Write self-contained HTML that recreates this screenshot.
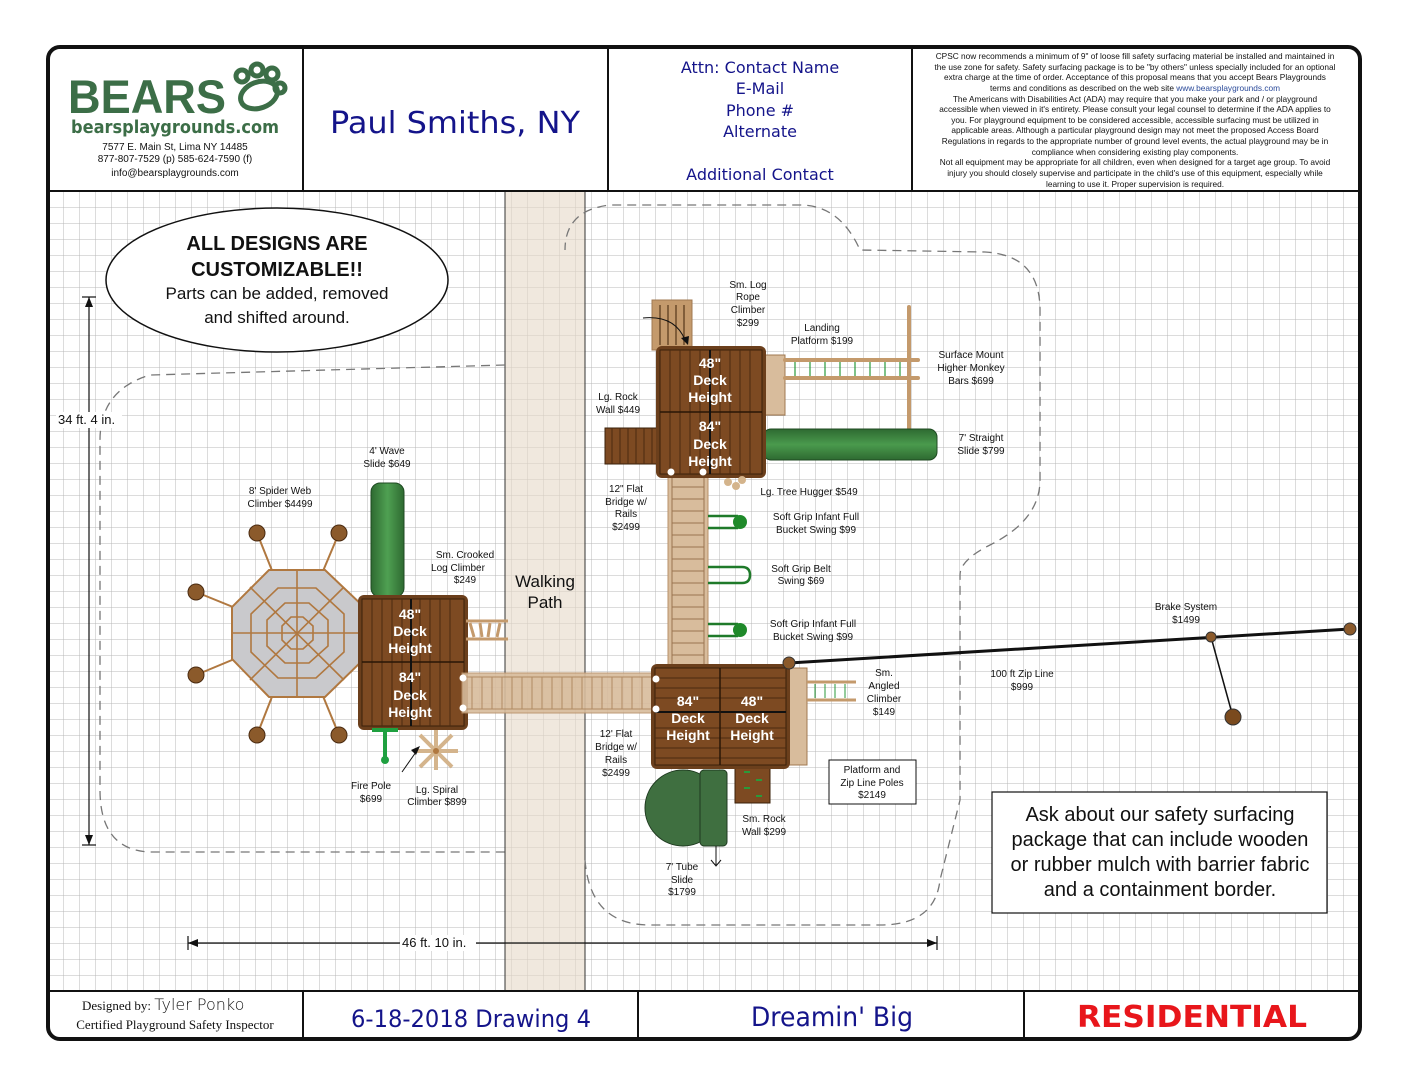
<!DOCTYPE html>
<html><head><meta charset="utf-8">
<style>
html,body{margin:0;padding:0;background:#fff;}
svg{display:block;}
.s{font-family:"Liberation Sans",sans-serif;font-size:10px;fill:#111;}
.w{font-family:"Liberation Sans",sans-serif;font-size:14px;font-weight:bold;fill:#fff;}
.c{font-family:"DejaVu Sans",sans-serif;fill:#14148a;}
</style></head><body>
<svg width="1408" height="1088" viewBox="0 0 1408 1088" xmlns="http://www.w3.org/2000/svg">
<defs>
<pattern id="g" x="48" y="192" width="16" height="16" patternUnits="userSpaceOnUse">
<path d="M16 0V16M0 16H16" stroke="#b8b8b8" stroke-width="1" fill="none"/>
</pattern>
<linearGradient id="gs" x1="0" y1="0" x2="0" y2="1"><stop offset="0" stop-color="#2e6a31"/><stop offset=".5" stop-color="#4a9a4d"/><stop offset="1" stop-color="#2e6a31"/></linearGradient>
<linearGradient id="gv" x1="0" y1="0" x2="1" y2="0"><stop offset="0" stop-color="#2e6a31"/><stop offset=".5" stop-color="#4fa052"/><stop offset="1" stop-color="#2e6a31"/></linearGradient>
</defs>
<rect width="1408" height="1088" fill="#fff"/>
<rect x="50" y="192" width="1308" height="798" fill="url(#g)"/>
<rect x="505" y="192" width="80" height="798" fill="#e6d9c8" opacity=".6"/>
<line x1="505" y1="192" x2="505" y2="990" stroke="#333" stroke-width="1"/>
<line x1="585" y1="192" x2="585" y2="990" stroke="#333" stroke-width="1"/>
<text x="545" y="587" font-family="Liberation Sans,sans-serif" font-size="17" text-anchor="middle" fill="#111">Walking</text>
<text x="545" y="608" font-family="Liberation Sans,sans-serif" font-size="17" text-anchor="middle" fill="#111">Path</text>
<g fill="none" stroke="#777" stroke-width="1.3" stroke-dasharray="9,6">
<path d="M505,365 L150,375 Q100,390 100,440 L100,790 Q100,850 150,852 L505,852"/>
<path d="M585,860 Q590,925 650,925 L880,925 Q935,925 940,880 L960,800 L960,575 Q960,560 990,545 Q1040,520 1040,480 L1040,310 Q1040,255 985,252 L860,250 Q840,205 800,205 L610,205 Q565,210 565,250"/>
</g>
<ellipse cx="277" cy="280" rx="171" ry="72" fill="#fff" stroke="#111" stroke-width="1.5"/>
<g font-family="Liberation Sans,sans-serif" text-anchor="middle" fill="#111">
<text x="277" y="250" font-size="20" font-weight="bold">ALL DESIGNS ARE</text>
<text x="277" y="276" font-size="20" font-weight="bold">CUSTOMIZABLE!!</text>
<text x="277" y="299" font-size="17">Parts can be added, removed</text>
<text x="277" y="323" font-size="17">and shifted around.</text>
</g>
<g stroke="#111" stroke-width="1.2">
<line x1="89" y1="297" x2="89" y2="845"/><line x1="82" y1="297" x2="96" y2="297"/><line x1="82" y1="845" x2="96" y2="845"/>
<line x1="188" y1="943" x2="937" y2="943"/><line x1="188" y1="936" x2="188" y2="950"/><line x1="937" y1="936" x2="937" y2="950"/>
</g>
<path d="M89,297 l-4,10 h8z M89,845 l-4,-10 h8z M188,943 l10,-4 v8z M937,943 l-10,-4 v8z" fill="#111"/>
<rect x="56" y="412" width="66" height="16" fill="#fff"/>
<text x="58" y="424" font-family="Liberation Sans,sans-serif" font-size="13" fill="#111">34 ft. 4 in.</text>
<rect x="400" y="935" width="76" height="16" fill="#fff"/>
<text x="402" y="947" font-family="Liberation Sans,sans-serif" font-size="13" fill="#111">46 ft. 10 in.</text>

<line x1="789" y1="663" x2="1350" y2="629" stroke="#111" stroke-width="3"/>
<line x1="1211" y1="637" x2="1233" y2="717" stroke="#111" stroke-width="1.5"/>
<circle cx="1211" cy="637" r="5" fill="#8b5a2b" stroke="#333"/>
<circle cx="1350" cy="629" r="6" fill="#8b5a2b" stroke="#333"/>
<circle cx="1233" cy="717" r="8" fill="#7a4a1e" stroke="#333"/>

<g>
<line x1="297" y1="633" x2="257" y2="533" stroke="#b07840" stroke-width="2"/>
<line x1="297" y1="633" x2="339" y2="533" stroke="#b07840" stroke-width="2"/>
<line x1="297" y1="633" x2="196" y2="592" stroke="#b07840" stroke-width="2"/>
<line x1="297" y1="633" x2="196" y2="675" stroke="#b07840" stroke-width="2"/>
<line x1="297" y1="633" x2="257" y2="735" stroke="#b07840" stroke-width="2"/>
<line x1="297" y1="633" x2="339" y2="735" stroke="#b07840" stroke-width="2"/>
<polygon points="269,570 325,570 364,607 364,659 325,697 269,697 232,659 232,607" fill="#c9c9cc" stroke="#b07840" stroke-width="2"/>
<polygon points="278,588 316,588 344,614 344,652 316,678 278,678 251,652 251,614" fill="none" stroke="#b07840" stroke-width="1.6"/>
<polygon points="285,603 309,603 328,620 328,646 309,663 285,663 267,646 267,620" fill="none" stroke="#b07840" stroke-width="1.6"/>
<polygon points="291,617 303,617 313,626 313,640 303,649 291,649 282,640 282,626" fill="none" stroke="#b07840" stroke-width="1.6"/>
<g stroke="#b07840" stroke-width="1.6">
<line x1="297" y1="570" x2="297" y2="697"/><line x1="232" y1="633" x2="364" y2="633"/>
<line x1="250" y1="587" x2="344" y2="680"/><line x1="344" y1="587" x2="250" y2="680"/>
</g>
<g fill="#8b5a2b" stroke="#4a2a10"><circle cx="257" cy="533" r="8"/><circle cx="339" cy="533" r="8"/><circle cx="196" cy="592" r="8"/><circle cx="196" cy="675" r="8"/><circle cx="257" cy="735" r="8"/><circle cx="339" cy="735" r="8"/></g>
</g>
<rect x="371" y="483" width="33" height="114" rx="9" fill="url(#gv)" stroke="#1f4a22"/>
<rect x="358" y="595" width="110" height="135" rx="6" fill="#6b3f1c"/>
<rect x="362" y="599" width="102" height="127" fill="#7d4a22" stroke="#3a200a"/>
<g stroke="#4a2a10" stroke-width="1">
<path d="M372,599V726M382,599V726M392,599V726M402,599V726M420,599V726M430,599V726M440,599V726M450,599V726"/>
</g>
<line x1="362" y1="662" x2="464" y2="662" stroke="#2a1606" stroke-width="1.5"/>
<line x1="411" y1="599" x2="411" y2="726" stroke="#111" stroke-width="2"/>
<g class="w" text-anchor="middle"><text x="410" y="619">48"</text><text x="410" y="636">Deck</text><text x="410" y="653">Height</text><text x="410" y="682">84"</text><text x="410" y="700">Deck</text><text x="410" y="717">Height</text></g>
<g stroke="#c49a6c" stroke-width="3"><line x1="466" y1="621" x2="508" y2="621"/><line x1="466" y1="639" x2="508" y2="639"/><path d="M470,623l4,14M480,623l2,14M490,623l-2,14M500,623l-3,14"/></g>
<path d="M372,730H398M385,730V760" stroke="#1fa040" stroke-width="4" fill="none"/><circle cx="385" cy="760" r="4" fill="#1fa040"/>
<g stroke="#d4b48c" stroke-width="4"><line x1="420" y1="735" x2="452" y2="767"/><line x1="452" y1="735" x2="420" y2="767"/><line x1="436" y1="730" x2="436" y2="770"/><line x1="414" y1="751" x2="458" y2="751"/></g>
<circle cx="436" cy="751" r="3" fill="#b07840"/>
<path d="M402,772 L416,752" stroke="#111" stroke-width="1"/><path d="M420,746 l-9,4 5,5z" fill="#111"/>
<rect x="462" y="673" width="193" height="40" fill="#d8bc9c" stroke="#b89068" opacity=".9"/>
<g stroke="#b08a62" stroke-width="1"><path d="M462,677H655M462,709H655"/><path d="M472,677V709M482,677V709M492,677V709M502,677V709M512,677V709M522,677V709M532,677V709M542,677V709M552,677V709M562,677V709M572,677V709M582,677V709M592,677V709M602,677V709M612,677V709M622,677V709M632,677V709M642,677V709"/></g>
<circle cx="463" cy="678" r="3.5" fill="#fff"/><circle cx="463" cy="708" r="3.5" fill="#fff"/>
<rect x="668" y="475" width="40" height="193" fill="#d8bc9c" stroke="#b89068"/>
<g stroke="#9a7450" stroke-width="1"><path d="M672,475V668M704,475V668"/><path d="M672,487H704M672,499H704M672,511H704M672,523H704M672,535H704M672,547H704M672,559H704M672,571H704M672,583H704M672,595H704M672,607H704M672,619H704M672,631H704M672,643H704M672,655H704"/></g>
<g fill="none" stroke="#1f7a2a" stroke-width="2.5">
<path d="M708,516H738M708,528H738"/><path d="M708,567H742Q750,567 750,575Q750,583 742,583H708"/><path d="M708,624H738M708,636H738"/>
</g>
<circle cx="740" cy="522" r="7" fill="#1f8a2a"/><circle cx="740" cy="630" r="7" fill="#1f8a2a"/>
<rect x="652" y="300" width="40" height="50" fill="#c49a6c" stroke="#a07850"/>
<g stroke="#6b4a2a" stroke-width="1.5"><path d="M660,305V345M668,305V345M676,305V345M684,305V345"/></g>
<path d="M643,318 Q675,315 685,340" stroke="#111" fill="none"/><path d="M688,345 l-7,-7 8,-2z" fill="#111"/>
<rect x="605" y="428" width="57" height="36" fill="#7d4a22" stroke="#3a200a"/>
<g stroke="#4a2a10"><path d="M612,428V464M620,428V464M628,428V464M636,428V464M644,428V464M652,428V464"/></g>
<rect x="763" y="355" width="22" height="60" fill="#d8bc9c" stroke="#a07850"/>
<g stroke="#c49a6c" stroke-width="4" stroke-linecap="round"><line x1="785" y1="360" x2="918" y2="360"/><line x1="785" y1="378" x2="918" y2="378"/><line x1="909" y1="307" x2="909" y2="440"/></g>
<g stroke="#2a9a3a" stroke-width="1.2"><path d="M795,362V376M810,362V376M825,362V376M840,362V376M855,362V376M870,362V376M885,362V376M900,362V376"/></g>
<rect x="763" y="429" width="174" height="31" rx="8" fill="url(#gs)" stroke="#1f4a22"/>
<rect x="656" y="346" width="110" height="132" rx="6" fill="#6b3f1c"/>
<rect x="660" y="350" width="102" height="124" fill="#7d4a22" stroke="#3a200a"/>
<g stroke="#4a2a10"><path d="M670,350V474M680,350V474M690,350V474M700,350V474M720,350V474M730,350V474M740,350V474M750,350V474"/></g>
<line x1="660" y1="412" x2="762" y2="412" stroke="#2a1606" stroke-width="1.5"/>
<line x1="710" y1="350" x2="710" y2="474" stroke="#111" stroke-width="2"/>
<g class="w" text-anchor="middle"><text x="710" y="368">48"</text><text x="710" y="385">Deck</text><text x="710" y="402">Height</text><text x="710" y="431">84"</text><text x="710" y="449">Deck</text><text x="710" y="466">Height</text></g>
<circle cx="671" cy="472" r="3.5" fill="#fff"/><circle cx="703" cy="472" r="3.5" fill="#fff"/>
<g fill="#d4b48c"><circle cx="728" cy="482" r="4"/><circle cx="736" cy="486" r="4"/><circle cx="742" cy="480" r="4"/></g>
<rect x="787" y="668" width="20" height="97" fill="#d8bc9c" stroke="#a07850"/>
<g stroke="#c49a6c" stroke-width="3"><line x1="807" y1="682" x2="856" y2="682"/><line x1="807" y1="700" x2="856" y2="700"/></g>
<g stroke="#2a9a3a"><path d="M815,684V698M825,684V698M835,684V698M845,684V698"/></g>
<rect x="735" y="763" width="35" height="40" fill="#7d4a22" stroke="#3a200a"/>
<g stroke="#2a9a3a" stroke-width="2"><path d="M744,772h6M756,780h6M744,788h6M756,796h6"/></g>
<circle cx="683" cy="808" r="38" fill="#3f6f40" stroke="#1f3a20"/>
<rect x="700" y="770" width="27" height="76" rx="4" fill="#3f6f40" stroke="#1f3a20"/>
<path d="M716,846V865M711,860l5,6 5,-6" stroke="#111" fill="none"/>
<rect x="651" y="664" width="139" height="105" rx="6" fill="#6b3f1c"/>
<rect x="655" y="668" width="131" height="97" fill="#7d4a22" stroke="#3a200a"/>
<g stroke="#4a2a10"><path d="M655,678H786M655,688H786M655,698H786M655,728H786M655,738H786M655,748H786M655,758H786"/></g>
<line x1="655" y1="712" x2="786" y2="712" stroke="#111" stroke-width="2"/>
<line x1="720" y1="668" x2="720" y2="765" stroke="#2a1606" stroke-width="1.5"/>
<g class="w" text-anchor="middle"><text x="688" y="706">84"</text><text x="688" y="723">Deck</text><text x="688" y="740">Height</text><text x="752" y="706">48"</text><text x="752" y="723">Deck</text><text x="752" y="740">Height</text></g>
<circle cx="656" cy="679" r="3.5" fill="#fff"/><circle cx="656" cy="709" r="3.5" fill="#fff"/>
<circle cx="789" cy="663" r="6" fill="#8b5a2b" stroke="#333"/>
<rect x="829" y="760" width="87" height="44" fill="#fff" stroke="#111"/>
<g class="s" text-anchor="middle">
<text x="748" y="288">Sm. Log</text><text x="748" y="300">Rope</text><text x="748" y="313">Climber</text><text x="748" y="326">$299</text>
<text x="822" y="331">Landing</text><text x="822" y="344">Platform $199</text>
<text x="971" y="358">Surface Mount</text><text x="971" y="371">Higher Monkey</text><text x="971" y="384">Bars $699</text>
<text x="618" y="400">Lg. Rock</text><text x="618" y="413">Wall $449</text>
<text x="981" y="441">7' Straight</text><text x="981" y="454">Slide $799</text>
<text x="387" y="454">4' Wave</text><text x="387" y="467">Slide $649</text>
<text x="280" y="494">8' Spider Web</text><text x="280" y="507">Climber $4499</text>
<text x="626" y="492">12" Flat</text><text x="626" y="505">Bridge w/</text><text x="626" y="517">Rails</text><text x="626" y="530">$2499</text>
<text x="809" y="495">Lg. Tree Hugger $549</text>
<text x="816" y="520">Soft Grip Infant Full</text><text x="816" y="533">Bucket Swing $99</text>
<text x="801" y="572">Soft Grip Belt</text><text x="801" y="584">Swing $69</text>
<text x="813" y="627">Soft Grip Infant Full</text><text x="813" y="640">Bucket Swing $99</text>
<text x="465" y="558">Sm. Crooked</text><text x="458" y="571">Log Climber</text><text x="465" y="583">$249</text>
<text x="884" y="676">Sm.</text><text x="884" y="689">Angled</text><text x="884" y="702">Climber</text><text x="884" y="715">$149</text>
<text x="1022" y="677">100 ft Zip Line</text><text x="1022" y="690">$999</text>
<text x="1186" y="610">Brake System</text><text x="1186" y="623">$1499</text>
<text x="616" y="737">12' Flat</text><text x="616" y="750">Bridge w/</text><text x="616" y="763">Rails</text><text x="616" y="776">$2499</text>
<text x="872" y="773">Platform and</text><text x="872" y="786">Zip Line Poles</text><text x="872" y="798">$2149</text>
<text x="371" y="789">Fire Pole</text><text x="371" y="802">$699</text>
<text x="437" y="793">Lg. Spiral</text><text x="437" y="805">Climber $899</text>
<text x="764" y="822">Sm. Rock</text><text x="764" y="835">Wall $299</text>
<text x="682" y="870">7' Tube</text><text x="682" y="883">Slide</text><text x="682" y="895">$1799</text>
</g>
<rect x="992" y="792" width="335" height="121" fill="#fff" stroke="#111" stroke-width="1.2"/>
<g font-family="Liberation Sans,sans-serif" font-size="20" text-anchor="middle" fill="#111">
<text x="1160" y="821">Ask about our safety surfacing</text><text x="1160" y="846">package that can include wooden</text><text x="1160" y="871">or rubber mulch with barrier fabric</text><text x="1160" y="896">and a containment border.</text>
</g>

<rect x="49" y="48" width="1310" height="143" fill="#fff"/>
<line x1="48" y1="191" x2="1360" y2="191" stroke="#111" stroke-width="2"/>
<line x1="303" y1="48" x2="303" y2="191" stroke="#111" stroke-width="2"/>
<line x1="608" y1="48" x2="608" y2="191" stroke="#111" stroke-width="2"/>
<line x1="912" y1="48" x2="912" y2="191" stroke="#111" stroke-width="2"/>
<text x="68" y="113" font-family="Liberation Sans,sans-serif" font-size="47" font-weight="bold" fill="#3c6e47" textLength="158" lengthAdjust="spacingAndGlyphs">BEARS</text>
<g fill="none" stroke="#3c6e47" stroke-width="5">
<ellipse cx="259" cy="95" rx="19" ry="13" transform="rotate(-20 259 95)"/>
<circle cx="242" cy="76" r="6"/><circle cx="257" cy="70" r="6"/><circle cx="272" cy="74" r="6"/><circle cx="280" cy="88" r="5"/>
</g>
<text x="175" y="133" font-family="DejaVu Sans,sans-serif" font-size="18" font-weight="bold" fill="#3c6e47" text-anchor="middle" textLength="208" lengthAdjust="spacingAndGlyphs">bearsplaygrounds.com</text>
<g font-family="Liberation Sans,sans-serif" font-size="10" text-anchor="middle" fill="#111">
<text x="175" y="150">7577 E. Main St, Lima NY 14485</text><text x="175" y="162">877-807-7529 (p) 585-624-7590 (f)</text><text x="175" y="176">info@bearsplaygrounds.com</text>
</g>
<text x="455" y="133" class="c" font-size="30" text-anchor="middle" textLength="250" lengthAdjust="spacingAndGlyphs">Paul Smiths, NY</text>
<g class="c" font-size="16" text-anchor="middle">
<text x="760" y="73">Attn: Contact Name</text><text x="760" y="94">E-Mail</text><text x="760" y="116">Phone #</text><text x="760" y="137">Alternate</text><text x="760" y="180">Additional Contact</text>
</g>
<g font-family="Liberation Sans,sans-serif" font-size="8.3" text-anchor="middle" fill="#111">
<text x="1135" y="59">CPSC now recommends a minimum of 9" of loose fill safety surfacing material be installed and maintained in</text>
<text x="1135" y="70">the use zone for safety. Safety surfacing package is to be "by others" unless specially included for an optional</text>
<text x="1135" y="80">extra charge at the time of order. Acceptance of this proposal means that you accept Bears Playgrounds</text>
<text x="1135" y="91">terms and conditions as described on the web site <tspan fill="#2a4a9a">www.bearsplaygrounds.com</tspan></text>
<text x="1135" y="102">The Americans with Disabilities Act (ADA) may require that you make your park and / or playground</text>
<text x="1135" y="112">accessible when viewed in it's entirety. Please consult your legal counsel to determine if the ADA applies to</text>
<text x="1135" y="123">you. For playground equipment to be considered accessible, accessible surfacing must be utilized in</text>
<text x="1135" y="133">applicable areas. Although a particular playground design may not meet the proposed Access Board</text>
<text x="1135" y="144">Regulations in regards to the appropriate number of ground level events, the actual playground may be in</text>
<text x="1135" y="155">compliance when considering existing play components.</text>
<text x="1135" y="165">Not all equipment may be appropriate for all children, even when designed for a target age group. To avoid</text>
<text x="1135" y="176">injury you should closely supervise and participate in the child's use of this equipment, especially while</text>
<text x="1135" y="187">learning to use it. Proper supervision is required.</text>
</g>

<rect x="49" y="992" width="1310" height="47" fill="#fff"/>
<line x1="48" y1="991" x2="1360" y2="991" stroke="#111" stroke-width="2"/>
<line x1="303" y1="991" x2="303" y2="1040" stroke="#111" stroke-width="2"/>
<line x1="638" y1="991" x2="638" y2="1040" stroke="#111" stroke-width="2"/>
<line x1="1024" y1="991" x2="1024" y2="1040" stroke="#111" stroke-width="2"/>
<text x="82" y="1010" font-family="Liberation Serif,serif" font-size="13" fill="#111">Designed by: <tspan font-family="DejaVu Sans,sans-serif" font-size="16" font-weight="300">Tyler Ponko</tspan></text>
<text x="175" y="1029" font-family="Liberation Serif,serif" font-size="13" fill="#111" text-anchor="middle">Certified Playground Safety Inspector</text>
<text x="471" y="1027" class="c" font-size="24" text-anchor="middle" textLength="240" lengthAdjust="spacingAndGlyphs">6-18-2018 Drawing 4</text>
<text x="832" y="1026" class="c" font-size="27" text-anchor="middle" textLength="162" lengthAdjust="spacingAndGlyphs">Dreamin' Big</text>
<text x="1192" y="1027" font-family="DejaVu Sans,sans-serif" font-size="30" font-weight="bold" fill="#e8161b" text-anchor="middle" textLength="230" lengthAdjust="spacingAndGlyphs">RESIDENTIAL</text>

<rect x="48" y="47" width="1312" height="992" rx="12" fill="none" stroke="#111" stroke-width="4"/>
</svg>
</body></html>
